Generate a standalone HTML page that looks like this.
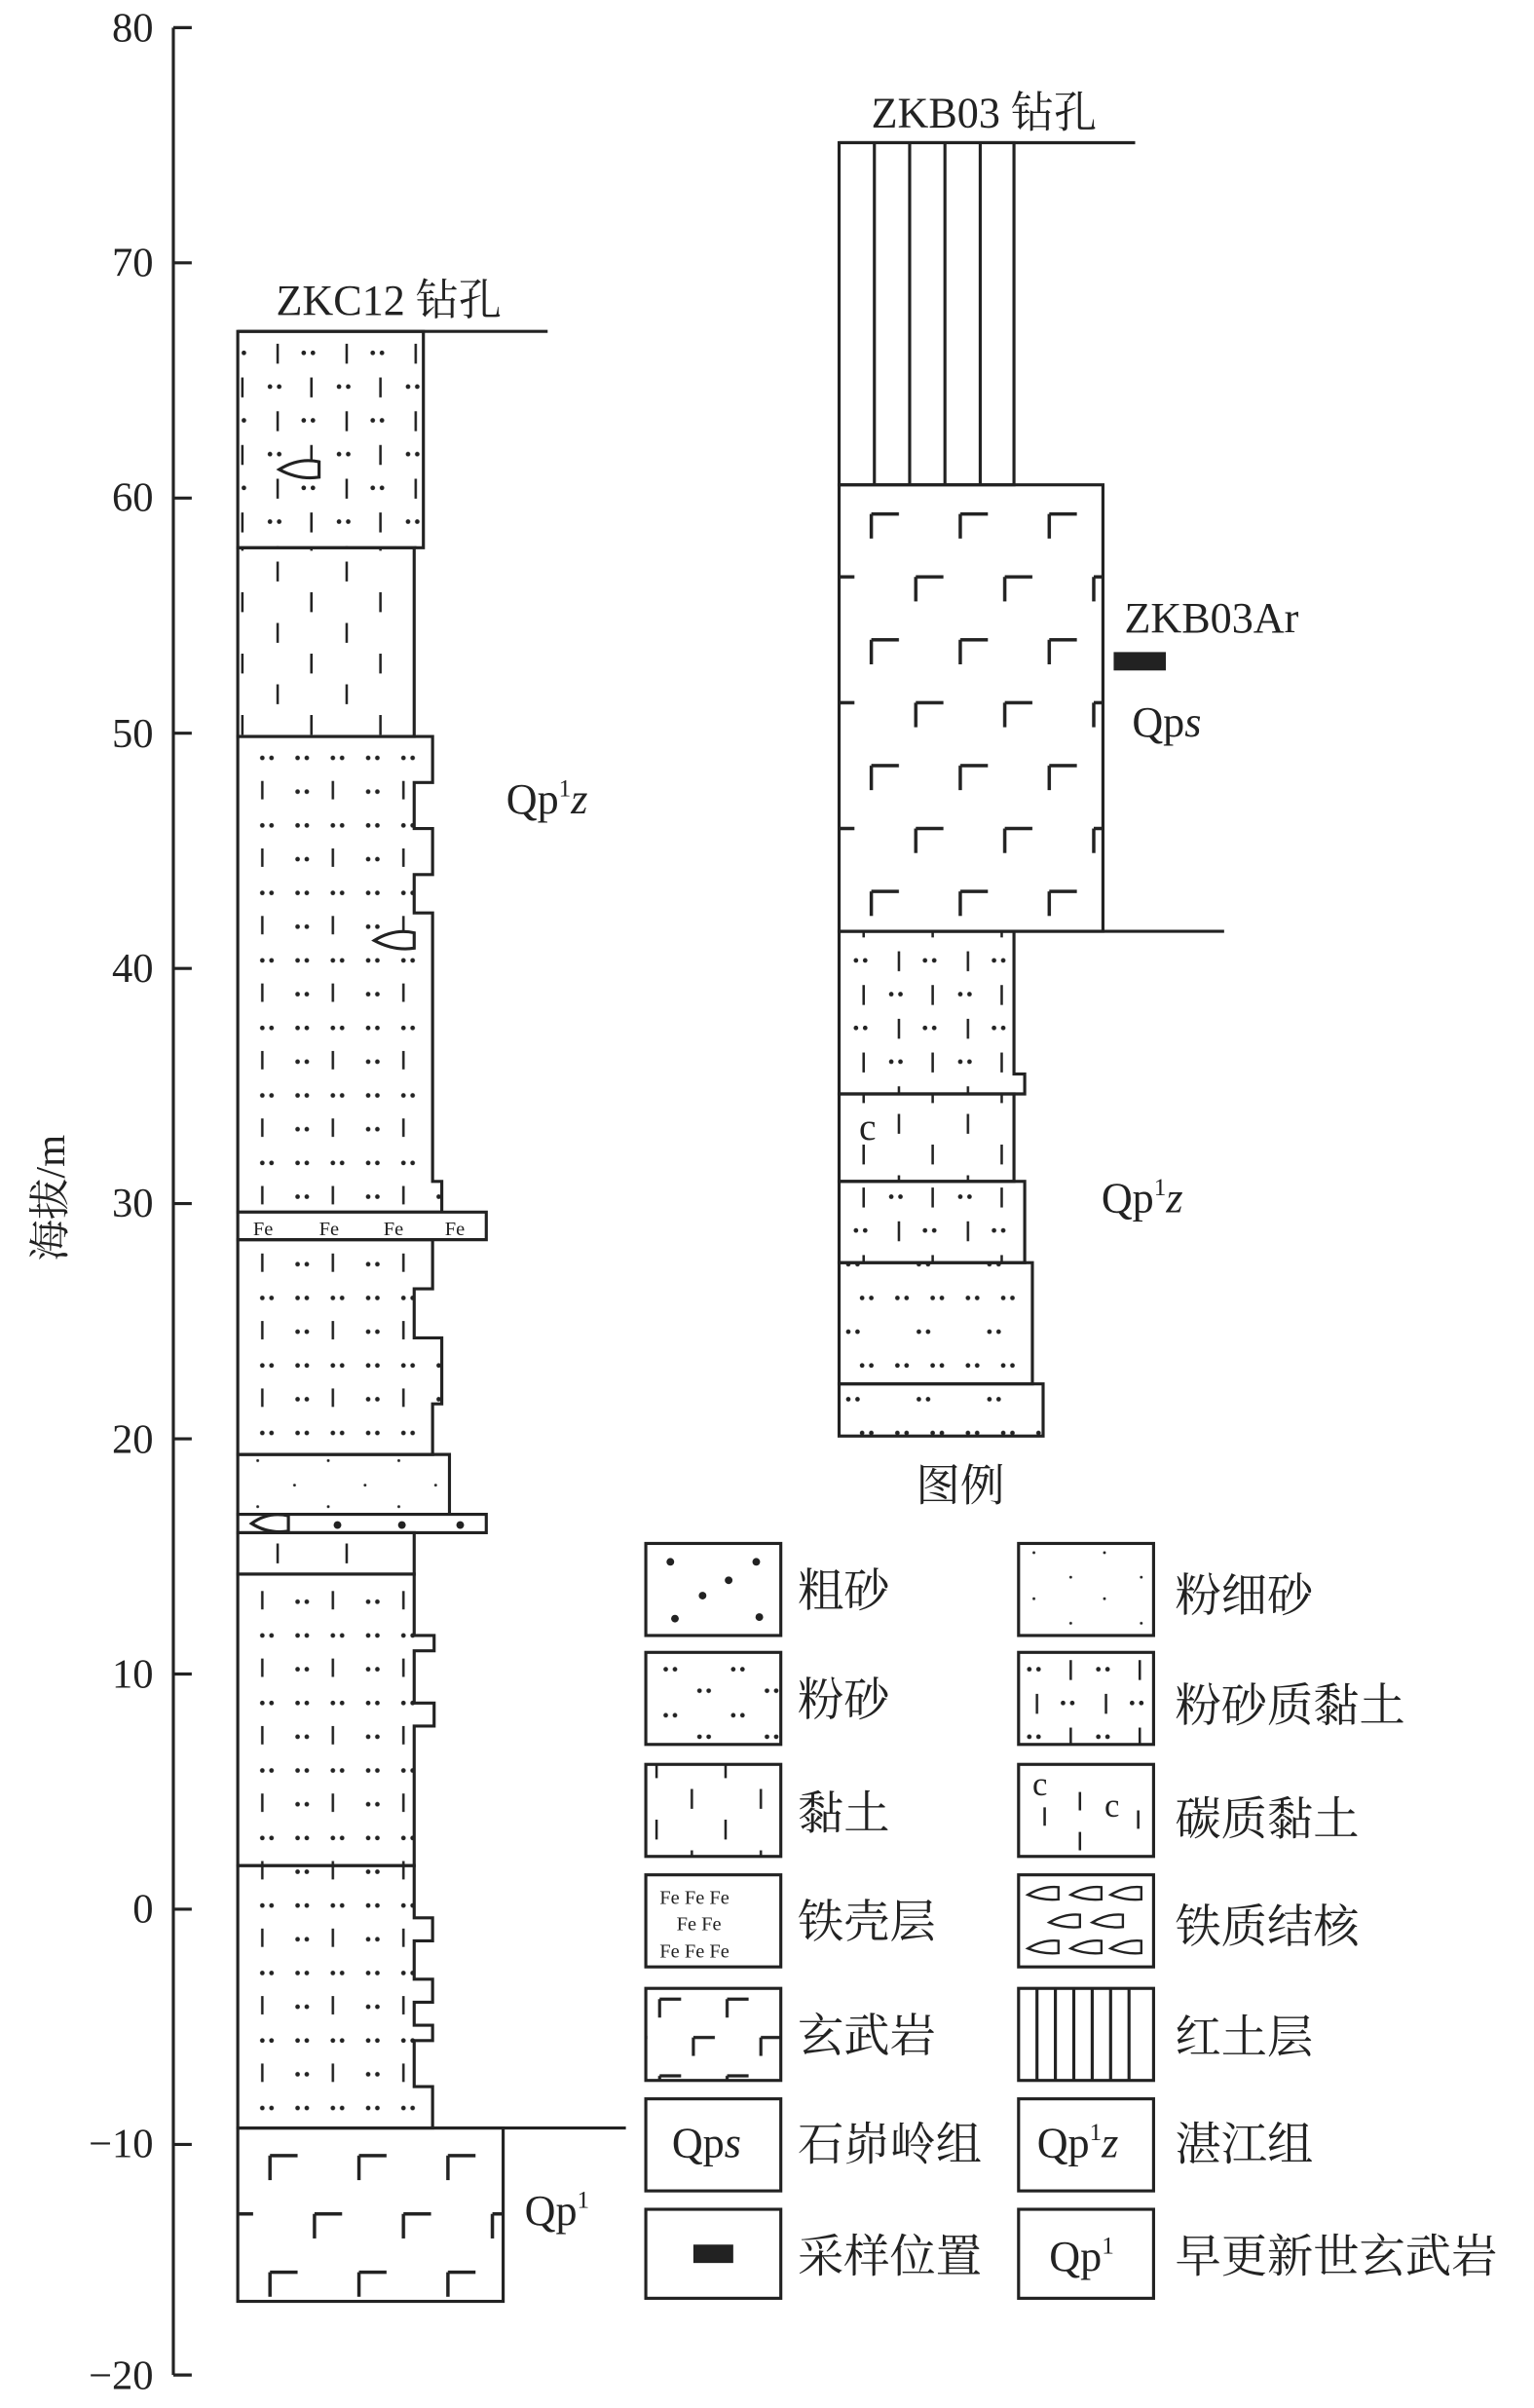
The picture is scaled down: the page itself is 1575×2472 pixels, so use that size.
<!DOCTYPE html>
<html><head><meta charset="utf-8"><style>
html,body{margin:0;padding:0;background:#fff}
svg{display:block}
text{font-family:"Liberation Serif","Noto Serif CJK SC",serif;fill:#222}
.cn{font-family:"Liberation Serif","Noto Serif CJK SC","Noto Sans CJK SC",serif}
</style></head><body>
<svg width="1575" height="2472" viewBox="0 0 1000 1569.5" xmlns="http://www.w3.org/2000/svg">
<defs>
<pattern id="clay" width="45" height="40" patternUnits="userSpaceOnUse" x="168" y="0">
<path d="M13 6v13M35 26v13" stroke="#222" stroke-width="1.6"/></pattern>
<pattern id="siltclay" width="45" height="44" patternUnits="userSpaceOnUse" x="168" y="0">
<path d="M13 4v13M35 26v13" stroke="#222" stroke-width="1.6"/>
<circle cx="30" cy="10" r="1.5" fill="#222"/><circle cx="36" cy="10" r="1.5" fill="#222"/>
<circle cx="8" cy="32" r="1.5" fill="#222"/><circle cx="14" cy="32" r="1.5" fill="#222"/></pattern>
<pattern id="silt" width="46" height="44" patternUnits="userSpaceOnUse" x="165" y="0">
<circle cx="6" cy="10" r="1.5" fill="#222"/><circle cx="12" cy="10" r="1.5" fill="#222"/>
<circle cx="29" cy="10" r="1.5" fill="#222"/><circle cx="35" cy="10" r="1.5" fill="#222"/>
<path d="M6 25v12" stroke="#222" stroke-width="1.6"/>
<circle cx="29" cy="32" r="1.5" fill="#222"/><circle cx="35" cy="32" r="1.5" fill="#222"/></pattern>
<pattern id="dots" width="46" height="44" patternUnits="userSpaceOnUse" x="165" y="0">
<circle cx="6" cy="10" r="1.5" fill="#222"/><circle cx="12" cy="10" r="1.5" fill="#222"/>
<circle cx="29" cy="10" r="1.5" fill="#222"/><circle cx="35" cy="10" r="1.5" fill="#222"/>
<circle cx="20" cy="32" r="1.5" fill="#222"/><circle cx="26" cy="32" r="1.5" fill="#222"/></pattern>
<pattern id="ldots" width="44" height="30" patternUnits="userSpaceOnUse" x="430" y="1080">
<circle cx="4" cy="8" r="1.5" fill="#222"/><circle cx="10" cy="8" r="1.5" fill="#222"/>
<circle cx="26" cy="22" r="1.5" fill="#222"/><circle cx="32" cy="22" r="1.5" fill="#222"/></pattern>
<pattern id="fine" width="46" height="30" patternUnits="userSpaceOnUse">
<circle cx="8" cy="8" r="0.9" fill="#222"/><circle cx="30" cy="22" r="0.9" fill="#222"/></pattern>
<pattern id="basalt" width="58" height="82" patternUnits="userSpaceOnUse" x="565" y="332">
<path d="M3 3h18M3 3v16M32 44h18M32 44v16" stroke="#222" stroke-width="2.2" fill="none"/></pattern>
<pattern id="basalt2" width="58" height="76" patternUnits="userSpaceOnUse" x="173" y="1402">
<path d="M3 3h18M3 3v16M32 41h18M32 41v16" stroke="#222" stroke-width="2.2" fill="none"/></pattern>
<pattern id="basalt3" width="44" height="50" patternUnits="userSpaceOnUse" x="427" y="1300">
<path d="M3 3h14M3 3v12M25 28h14M25 28v12" stroke="#222" stroke-width="2" fill="none"/></pattern>
</defs>
<g stroke="#222" stroke-width="2" fill="none">
<line x1="113" y1="18" x2="113" y2="1548"/>
<line x1="113" y1="18" x2="125" y2="18"/><line x1="113" y1="171.3" x2="125" y2="171.3"/>
<line x1="113" y1="324.6" x2="125" y2="324.6"/><line x1="113" y1="477.9" x2="125" y2="477.9"/>
<line x1="113" y1="631.2" x2="125" y2="631.2"/><line x1="113" y1="784.5" x2="125" y2="784.5"/>
<line x1="113" y1="937.8" x2="125" y2="937.8"/><line x1="113" y1="1091.1" x2="125" y2="1091.1"/>
<line x1="113" y1="1244.4" x2="125" y2="1244.4"/><line x1="113" y1="1397.7" x2="125" y2="1397.7"/>
<line x1="113" y1="1548" x2="125" y2="1548"/>
</g>
<g font-size="27" text-anchor="end">
<text x="100" y="27">80</text><text x="100" y="180">70</text><text x="100" y="333">60</text>
<text x="100" y="487">50</text><text x="100" y="640">40</text><text x="100" y="793">30</text>
<text x="100" y="947">20</text><text x="100" y="1100">10</text><text x="100" y="1253">0</text>
<text x="100" y="1406">−10</text><text x="100" y="1557">−20</text>
</g>
<text class="cn" x="0" y="0" font-size="27" transform="translate(42,822) rotate(-90)">海拔/m</text>

<!-- ZKC12 -->
<text class="cn" x="180" y="205" font-size="28">ZKC12 钻孔</text>
<g stroke="#222" stroke-width="2">
<line x1="155" y1="216" x2="357" y2="216"/>
<rect x="155" y="216" width="121" height="141" fill="url(#siltclay)"/>
<rect x="155" y="357" width="115" height="123" fill="url(#clay)"/>
<path d="M155 480H282V510H270V540H282V570H270V595H282V770H288V790H155Z" fill="url(#silt)"/>
<path d="M155 790H317V808H155Z" fill="#fff"/>
<path d="M155 808H282V840H270V872H288V915H282V948H155Z" fill="url(#silt)"/>
<path d="M155 948H293V987H155Z" fill="url(#fine)"/>
<path d="M155 987H317V999H155Z" fill="#fff"/>
<rect x="155" y="999" width="115" height="27" fill="url(#clay)"/>
<path d="M155 1026H270V1066H283V1076H270V1110H283V1125H270V1216H155Z" fill="url(#silt)"/>
<path d="M155 1216H270V1250H282V1265H270V1290H282V1305H270V1320H282V1330H270V1360H282V1387H155Z" fill="url(#silt)"/>
<line x1="155" y1="1387" x2="408" y2="1387"/>
<rect x="155" y="1387" width="173" height="113" fill="url(#basalt2)"/>
</g>
<g font-size="13"><text x="165" y="805">Fe</text><text x="208" y="805">Fe</text><text x="250" y="805">Fe</text><text x="290" y="805">Fe</text></g>
<path d="M182 306 Q195 298 208 301 L208 311 Q195 313 182 306Z" stroke="#222" stroke-width="2" fill="#fff"/>
<path d="M244 613 Q257 605 270 608 L270 618 Q257 620 244 613Z" stroke="#222" stroke-width="2" fill="#fff"/>
<path d="M164 993 Q175 985 188 988 L188 998 Q175 1000 164 993Z" stroke="#222" stroke-width="2" fill="#fff"/>
<g fill="#222"><circle cx="220" cy="994" r="2.5"/><circle cx="262" cy="994" r="2.5"/><circle cx="300" cy="994" r="2.5"/></g>
<text x="330" y="530" font-size="28">Qp<tspan font-size="16" dy="-11">1</tspan><tspan dy="11" font-style="italic">z</tspan></text>
<text x="342" y="1450" font-size="28">Qp<tspan font-size="16" dy="-11">1</tspan></text>

<!-- ZKB03 -->
<text class="cn" x="568" y="83" font-size="28">ZKB03 钻孔</text>
<g stroke="#222" stroke-width="2">
<line x1="547" y1="93" x2="740" y2="93"/>
<rect x="547" y="93" width="114" height="223" fill="#fff"/>
<path d="M570 93V316M593 93V316M616 93V316M639 93V316"/>
<rect x="547" y="316" width="172" height="291" fill="url(#basalt)"/>
<line x1="547" y1="607" x2="798" y2="607"/>
<path d="M547 607H661V700H668V713H547Z" fill="url(#siltclay)"/>
<rect x="547" y="713" width="114" height="57" fill="url(#clay)"/>
<rect x="547" y="770" width="121" height="53" fill="url(#siltclay)"/>
<rect x="547" y="823" width="126" height="79" fill="url(#dots)"/>
<rect x="547" y="902" width="133" height="34" fill="url(#dots)"/>
</g>
<text x="560" y="743" font-size="25">c</text>
<rect x="726" y="425" width="34" height="12" fill="#222"/>
<text x="733" y="412" font-size="28">ZKB03Ar</text>
<text x="738" y="480" font-size="28">Qp<tspan font-style="italic">s</tspan></text>
<text x="718" y="790" font-size="28">Qp<tspan font-size="16" dy="-11">1</tspan><tspan dy="11" font-style="italic">z</tspan></text>

<!-- legend -->
<text class="cn" x="597" y="978" font-size="29">图例</text>
<g stroke="#222" stroke-width="2" fill="#fff">
<rect x="421" y="1006" width="88" height="60"/><rect x="664" y="1006" width="88" height="60" fill="url(#fine)"/>
<rect x="421" y="1077" width="88" height="60" fill="url(#ldots)"/><rect x="664" y="1077" width="88" height="60" fill="url(#siltclay)"/>
<rect x="421" y="1150" width="88" height="60" fill="url(#clay)"/><rect x="664" y="1150" width="88" height="60"/>
<rect x="421" y="1222" width="88" height="60"/><rect x="664" y="1222" width="88" height="60"/>
<rect x="421" y="1296" width="88" height="60" fill="url(#basalt3)"/><rect x="664" y="1296" width="88" height="60"/>
<rect x="421" y="1368" width="88" height="60"/><rect x="664" y="1368" width="88" height="60"/>
<rect x="421" y="1440" width="88" height="58"/><rect x="664" y="1440" width="88" height="58"/>
<path d="M676 1296v60M688 1296v60M700 1296v60M712 1296v60M724 1296v60M736 1296v60" fill="none"/>
<path d="M681 1178v12M704 1168v12M704 1194v12M742 1180v12" fill="none" stroke-width="1.6"/>
</g>
<g fill="#222"><circle cx="437" cy="1018" r="2.5"/><circle cx="475" cy="1030" r="2.5"/><circle cx="493" cy="1018" r="2.5"/><circle cx="458" cy="1040" r="2.5"/><circle cx="440" cy="1055" r="2.5"/><circle cx="495" cy="1054" r="2.5"/></g>
<text x="673" y="1170" font-size="22">c</text><text x="720" y="1184" font-size="22">c</text>
<g font-size="13"><text x="430" y="1241">Fe Fe Fe</text><text x="441" y="1258">Fe Fe</text><text x="430" y="1276">Fe Fe Fe</text></g>
<g stroke="#222" stroke-width="1.5" fill="#fff">
<path d="M670 1235q10-6 20-5v8q-10 1-20-3z"/><path d="M698 1235q10-6 20-5v8q-10 1-20-3z"/><path d="M724 1235q10-6 20-5v8q-10 1-20-3z"/>
<path d="M684 1253q10-6 20-5v8q-10 1-20-3z"/><path d="M712 1253q10-6 20-5v8q-10 1-20-3z"/>
<path d="M670 1270q10-6 20-5v8q-10 1-20-3z"/><path d="M698 1270q10-6 20-5v8q-10 1-20-3z"/><path d="M724 1270q10-6 20-5v8q-10 1-20-3z"/>
</g>
<text x="438" y="1406" font-size="28">Qp<tspan font-style="italic">s</tspan></text>
<text x="676" y="1406" font-size="28">Qp<tspan font-size="16" dy="-11">1</tspan><tspan dy="11" font-style="italic">z</tspan></text>
<rect x="452" y="1463" width="26" height="12" fill="#222"/>
<text x="684" y="1480" font-size="28">Qp<tspan font-size="16" dy="-11">1</tspan></text>
<g class="cn" font-size="30">
<text x="520" y="1047">粗砂</text><text x="766" y="1050">粉细砂</text>
<text x="520" y="1118">粉砂</text><text x="766" y="1122">粉砂质黏土</text>
<text x="520" y="1192">黏土</text><text x="766" y="1196">碳质黏土</text>
<text x="520" y="1263">铁壳层</text><text x="766" y="1266">铁质结核</text>
<text x="520" y="1337">玄武岩</text><text x="766" y="1338">红土层</text>
<text x="520" y="1408">石峁岭组</text><text x="766" y="1408">湛江组</text>
<text x="520" y="1481">采样位置</text><text x="766" y="1481">早更新世玄武岩</text>
</g>
</svg>
</body></html>
